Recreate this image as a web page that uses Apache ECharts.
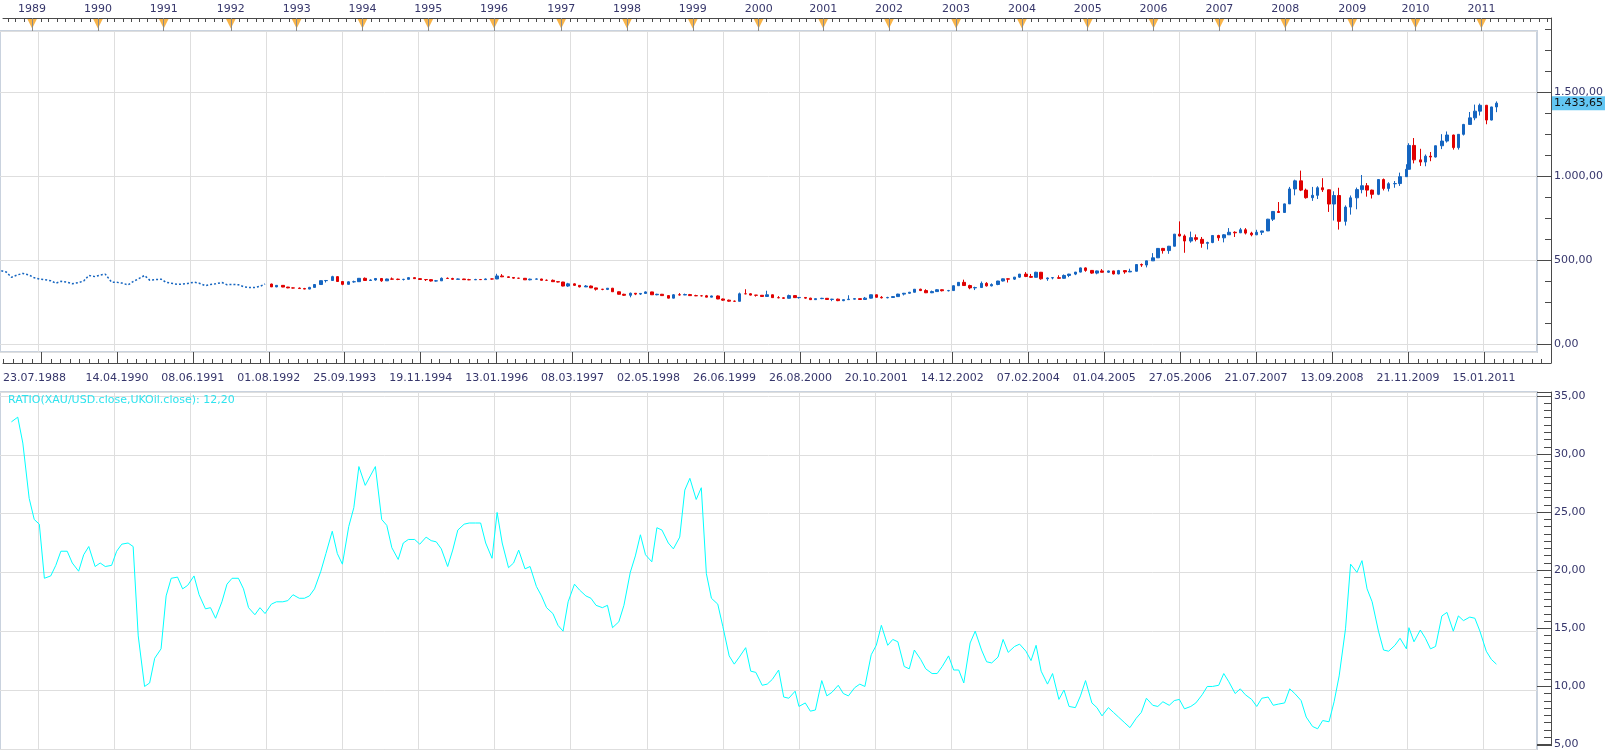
<!DOCTYPE html>
<html>
<head>
<meta charset="utf-8">
<title>XAU/USD</title>
<script src="https://cdn.jsdelivr.net/npm/echarts@6/dist/echarts.min.js"></script>
<style>
html, body { margin: 0; padding: 0; background: #fff; }
#main { width: 1608px; height: 750px; }
</style>
</head>
<body>
<div id="main"></div>
<script>
// labels of the date axis: first one on bar 0, the others every 60 weekly bars starting at bar 90
var tickDates = ['23.07.1988', '14.04.1990', '08.06.1991', '01.08.1992', '25.09.1993', '19.11.1994',
  '13.01.1996', '08.03.1997', '02.05.1998', '26.06.1999', '26.08.2000', '20.10.2001', '14.12.2002',
  '07.02.2004', '01.04.2005', '27.05.2006', '21.07.2007', '13.09.2008', '21.11.2009', '15.01.2011'];
var years = [1989, 1990, 1991, 1992, 1993, 1994, 1995, 1996, 1997, 1998, 1999, 2000,
  2001, 2002, 2003, 2004, 2005, 2006, 2007, 2008, 2009, 2010, 2011];

// XAU/USD per month, Jul 1988 .. Mar 2011 (month end close, high, low)
var goldClose = [
  436, 428, 397, 412, 420, 410,
  394, 387, 383, 377, 362, 373, 368, 359, 366, 375, 408, 401,
  410, 416, 368, 367, 363, 352, 372, 387, 408, 380, 383, 386,
  367, 362, 355, 357, 360, 368, 362, 347, 354, 358, 366, 353,
  354, 353, 341, 336, 337, 343, 357, 340, 349, 339, 334, 333,
  330, 327, 337, 354, 377, 378, 401, 372, 355, 370, 371, 391,
  378, 381, 390, 376, 387, 386, 384, 385, 395, 389, 384, 383,
  375, 376, 391, 390, 385, 387, 383, 382, 384, 383, 387, 387,
  405, 400, 396, 392, 391, 382, 386, 387, 379, 379, 371, 369,
  345, 358, 349, 340, 345, 334, 326, 325, 332, 311, 296, 290,
  302, 297, 301, 310, 293, 296, 288, 273, 293, 292, 294, 288,
  287, 287, 279, 286, 268, 261, 255, 254, 299, 299, 291, 290,
  283, 293, 276, 275, 272, 288, 276, 277, 273, 264, 270, 272,
  265, 267, 258, 264, 267, 270, 265, 273, 293, 278, 275, 277,
  282, 297, 302, 308, 326, 318, 305, 312, 323, 317, 318, 347,
  367, 348, 334, 336, 361, 346, 354, 375, 388, 386, 398, 416,
  402, 397, 427, 388, 393, 395, 391, 408, 416, 428, 453, 438,
  422, 435, 427, 435, 417, 437, 429, 433, 473, 470, 495, 513,
  569, 556, 582, 654, 643, 613, 633, 623, 599, 604, 646, 632,
  650, 665, 662, 680, 660, 650, 665, 673, 743, 789, 783, 834,
  923, 971, 916, 871, 885, 930, 918, 833, 884, 730, 815, 870,
  919, 942, 916, 891, 979, 926, 954, 955, 996, 1040, 1182, 1096,
  1083, 1118, 1113, 1180, 1208, 1244, 1169, 1248, 1307, 1346, 1386, 1421,
  1333, 1411, 1433.65
];
var goldHigh = [
  445, 440, 430, 415, 425, 425,
  412, 394, 393, 387, 380, 374, 378, 372, 369, 378, 411, 418,
  424, 426, 418, 378, 372, 366, 374, 412, 413, 412, 387, 389,
  404, 370, 369, 360, 362, 370, 371, 364, 356, 362, 370, 368,
  360, 357, 355, 342, 340, 345, 360, 359, 350, 351, 340, 336,
  336, 334, 340, 356, 378, 381, 406, 404, 374, 373, 377, 392,
  396, 385, 392, 392, 389, 396, 389, 388, 398, 396, 392, 386,
  385, 381, 396, 396, 394, 390, 388, 388, 388, 387, 390, 389,
  418, 416, 402, 397, 394, 393, 389, 390, 388, 384, 384, 373,
  370, 364, 361, 350, 351, 348, 335, 328, 333, 334, 313, 299,
  306, 303, 302, 313, 311, 299, 298, 290, 297, 303, 300, 298,
  293, 290, 292, 288, 289, 270, 264, 259, 306, 326, 302, 292,
  291, 317, 294, 285, 278, 294, 289, 280, 278, 275, 271, 275,
  273, 269, 270, 265, 290, 273, 271, 280, 294, 294, 285, 281,
  285, 299, 304, 310, 327, 329, 326, 318, 327, 325, 322, 348,
  369, 383, 353, 341, 372, 368, 361, 376, 390, 390, 399, 417,
  428, 417, 430, 429, 396, 397, 409, 414, 418, 429, 455, 456,
  440, 437, 446, 437, 436, 441, 438, 448, 474, 479, 496, 541,
  571, 572, 584, 655, 730, 652, 669, 652, 637, 609, 648, 650,
  654, 690, 671, 691, 690, 668, 680, 674, 745, 791, 845, 836,
  935, 978, 1032, 925, 935, 939, 987, 920, 909, 930, 825, 884,
  931, 1006, 958, 919, 982, 985, 963, 970, 1020, 1070, 1195, 1226,
  1162, 1128, 1143, 1181, 1249, 1265, 1246, 1250, 1310, 1381, 1425, 1431,
  1423, 1412, 1444
];
var goldLow = [
  430, 425, 395, 395, 410, 408,
  392, 382, 377, 375, 357, 358, 365, 356, 356, 364, 374, 399,
  400, 408, 364, 366, 362, 346, 350, 370, 384, 375, 376, 375,
  366, 358, 353, 353, 354, 358, 360, 346, 345, 352, 356, 352,
  348, 349, 339, 334, 334, 336, 342, 339, 338, 338, 332, 331,
  329, 326, 326, 336, 353, 366, 377, 370, 350, 354, 365, 370,
  376, 376, 377, 370, 375, 383, 380, 378, 384, 387, 382, 375,
  372, 372, 375, 389, 382, 383, 382, 380, 381, 381, 382, 384,
  386, 398, 393, 389, 388, 381, 379, 385, 378, 378, 370, 367,
  343, 340, 347, 337, 339, 333, 318, 320, 321, 310, 295, 286,
  278, 291, 292, 300, 292, 290, 287, 272, 272, 289, 291, 286,
  285, 283, 278, 278, 267, 257, 252, 252, 253, 296, 289, 282,
  282, 282, 275, 272, 268, 271, 275, 270, 270, 263, 263, 267,
  262, 255, 255, 255, 264, 265, 264, 264, 271, 277, 271, 272,
  276, 281, 289, 300, 307, 315, 303, 303, 311, 313, 313, 316,
  346, 346, 326, 321, 335, 342, 343, 350, 372, 366, 381, 394,
  398, 393, 396, 383, 376, 385, 388, 389, 398, 410, 426, 430,
  418, 415, 426, 423, 414, 415, 418, 428, 432, 459, 456, 494,
  512, 538, 537, 581, 640, 543, 603, 611, 573, 563, 600, 614,
  605, 649, 637, 660, 652, 641, 648, 649, 672, 732, 780, 782,
  833, 885, 910, 865, 852, 863, 905, 786, 735, 681, 705, 770,
  802, 897, 877, 866, 886, 914, 908, 930, 941, 995, 1039, 1075,
  1060, 1058, 1088, 1110, 1160, 1199, 1157, 1157, 1241, 1306, 1332, 1360,
  1308, 1331, 1380
];
// RATIO(XAU/USD.close, UKOil.close) at month end, Jul 1988 .. Mar 2011
var ratio = [
  null, null, 32.8, 33.2, 31.0, 26.3,
  24.5, 24.1, 19.5, 19.7, 20.6, 21.8, 21.8, 20.8, 20.1, 21.5, 22.2, 20.5,
  20.8, 20.5, 20.6, 21.8, 22.4, 22.5, 22.2, 14.6, 10.3, 10.6, 12.7, 13.5,
  18.0, 19.5, 19.6, 18.6, 18.9, 19.7, 18.1, 16.9, 17.0, 16.1, 17.5, 19.0,
  19.5, 19.5, 18.6, 17.0, 16.4, 17.0, 16.5, 17.3, 17.5, 17.5, 17.6, 18.1,
  17.8, 17.8, 18.0, 18.6, 20.1, 21.6, 23.5, 21.6, 20.7, 23.9, 25.5, 29.0,
  27.4, 28.2, 29.0, 24.5, 24.0, 22.1, 21.1, 22.5, 22.8, 22.8, 22.4, 23.0,
  22.7, 22.6, 22.0, 20.5, 21.9, 23.6, 24.1, 24.2, 24.2, 24.2, 22.5, 21.2,
  25.1, 22.5, 20.4, 20.8, 21.9, 20.3, 20.5, 18.8, 18.0, 17.0, 16.5, 15.5,
  15.0, 17.5, 19.0, 18.5, 18.0, 17.8, 17.2, 17.0, 17.2, 15.3, 15.8, 17.2,
  20.0, 21.4, 23.2, 21.5, 20.9, 23.8, 23.6, 22.5, 22.0, 23.0, 27.0, 28.0,
  26.2, 27.2, 19.9, 17.8, 17.3, 15.4, 12.9, 12.2, 12.8, 13.6, 11.6, 11.5,
  10.4, 10.5, 10.9, 11.7, 9.4, 9.3, 9.9, 8.6, 8.9, 8.2, 8.3, 10.8,
  9.5, 9.8, 10.4, 9.7, 9.5, 10.2, 10.5, 10.3, 13.0, 13.8, 15.5, 13.8,
  14.3, 14.1, 12.0, 11.8, 13.4, 12.6, 11.8, 11.4, 11.4, 12.0, 12.9, 11.7,
  11.7, 10.6, 14.0, 15.0, 13.4, 12.4, 12.3, 12.8, 14.3, 13.2, 13.7, 13.9,
  13.3, 12.5, 13.8, 11.6, 10.5, 11.4, 9.2, 10.0, 8.6, 8.5, 9.5, 10.8,
  8.9, 8.5, 7.8, 8.5, 8.1, 7.7, 7.2, 6.8, 7.6, 8.1, 9.3, 8.7,
  8.6, 9.0, 8.7, 9.1, 9.2, 8.4, 8.6, 8.9, 9.6, 10.3, 10.3, 10.4,
  11.4, 10.7, 9.7, 10.1, 9.6, 9.2, 8.6, 9.3, 9.4, 8.7, 8.8, 8.9,
  10.1, 9.7, 9.1, 7.7, 6.9, 6.7, 7.4, 7.3, 9.0, 11.2, 15.2, 20.7,
  20.0, 21.0, 18.6, 17.5, 15.0, 13.4, 13.3, 13.8, 14.4, 13.5, 15.3, 14.1,
  15.1, 14.4, 13.5, 13.7, 16.3, 16.6, 15.0, 16.3, 15.9, 16.2, 16.1, 15.0,
  13.3, 12.6, 12.2
];

var PLOT_BARS = 1213, AXIS_BARS = 1224;   // weekly bars inside the frame / up to the price axis
var FIRST_CANDLE_BAR = 210;               // before 01.08.1992 the price is only a dotted close line
var WEEK = 7 * 864e5;

var labelColor = '#36366b', axisColor = '#4a4a4a', gridColor = '#dedede', frameColor = '#c9d2de';
var upColor = '#1565c0', downColor = '#e00000', ratioColor = '#00ffff';

function de(v) {
  var p = Math.abs(v).toFixed(2).split('.');
  return (v < 0 ? '-' : '') + p[0].replace(/\B(?=(\d{3})+(?!\d))/g, '.') + ',' + p[1];
}
function parseDate(s) { var p = s.split('.'); return Date.UTC(+p[2], +p[1] - 1, +p[0]); }
function pad(n) { return n < 10 ? '0' + n : '' + n; }
function fmtDate(t) {
  var d = new Date(t);
  return pad(d.getUTCDate()) + '.' + pad(d.getUTCMonth() + 1) + '.' + d.getUTCFullYear();
}

// dates of the weekly bars, hung on the labelled dates
var anchors = tickDates.map(parseDate);
function barTime(b) {
  if (b < 90) return anchors[1] - (90 - b) * WEEK;
  var k = Math.min(Math.floor((b - 90) / 60), anchors.length - 2);
  return anchors[k + 1] + (b - 90 - 60 * k) * WEEK;
}
var barTimes = [], cats = [];
for (var b = 0; b < AXIS_BARS; b++) {
  barTimes.push(barTime(b));
  cats.push(fmtDate(barTimes[b]));
}
var plotCats = cats.slice(0, PLOT_BARS);

// tick positions
var majorBars = {}, labelBars = {0: true}, minorBars = {};
for (var k = 0; 30 + 60 * k < AXIS_BARS; k++) {
  majorBars[30 + 60 * k] = true;
  if (k > 0) labelBars[30 + 60 * k] = true;
}
for (var j = -4; 30 + 7.5 * j < AXIS_BARS; j++) minorBars[Math.round(30 + 7.5 * j)] = true;

function nearestBar(t) {
  var best = 0;
  for (var i = 1; i < AXIS_BARS; i++) if (Math.abs(barTimes[i] - t) < Math.abs(barTimes[best] - t)) best = i;
  return best;
}
var yearAt = {}, yearBars = [];
years.forEach(function (y) {
  var yb = nearestBar(Date.UTC(y, 0, 1));
  yearAt[yb] = y;
  yearBars.push(yb);
});
var topMinor = {};
for (var i = 0; i < yearBars.length - 1; i++) {
  for (var q = 1; q < 8; q++) topMinor[Math.round(yearBars[i] + q * (yearBars[i + 1] - yearBars[i]) / 8)] = true;
}
for (var q = 1; yearBars[0] - 6.5 * q >= 0; q++) topMinor[Math.round(yearBars[0] - 6.5 * q)] = true;
var lastYb = yearBars[yearBars.length - 1];
for (var q = 1; lastYb + 6.5 * q < AXIS_BARS; q++) topMinor[Math.round(lastYb + 6.5 * q)] = true;

// month i (0 = Jul 1988) sits on the last bar of that month
function monthEndBar(i) {
  var end = Date.UTC(1988, 7 + i, 0);
  var bb = 0;
  while (bb + 1 < AXIS_BARS && barTimes[bb + 1] <= end) bb++;
  return bb;
}
var empty = ['-', '-', '-', '-'];
var earlyData = [], candleData = [], ratioData = [];
for (var b = 0; b < PLOT_BARS; b++) { earlyData.push('-'); candleData.push(empty); ratioData.push('-'); }
for (var i = 0; i < goldClose.length; i++) {
  var mb = monthEndBar(i);
  if (mb < FIRST_CANDLE_BAR) {
    earlyData[mb] = goldClose[i];
  } else {
    candleData[mb] = [goldClose[i - 1], goldClose[i], goldLow[i], goldHigh[i]];
  }
  if (ratio[i] != null) ratioData[mb] = ratio[i];
}
var lastClose = goldClose[goldClose.length - 1];
var lastRatio = ratio[ratio.length - 1];

// pixel layout of the two panels
var TOP_AXIS_Y = 18, FRAME_TOP = 31, ZERO_Y = 344, FRAME_BOTTOM = 352, DATE_AXIS_Y = 363;
var PRICE_PX = 84 / 500;
var LOW_TOP = 392, LOW_BOTTOM = 750, Y35 = 396, RATIO_PX = 11.76;

var pAxisMax = (ZERO_Y - TOP_AXIS_Y) / PRICE_PX, pAxisMin = -(DATE_AXIS_Y - ZERO_Y) / PRICE_PX;
var pPlotMax = (ZERO_Y - FRAME_TOP) / PRICE_PX, pPlotMin = -(FRAME_BOTTOM - ZERO_Y) / PRICE_PX;
var rMax = 35 + (Y35 - LOW_TOP) / RATIO_PX, rMin = 35 - (LOW_BOTTOM - Y35) / RATIO_PX;
var markerY = pAxisMax - 5.5 / PRICE_PX;

var myChart = echarts.init(document.getElementById('main'));

function hiddenX(grid, data, split) {
  return {
    gridIndex: grid, type: 'category', data: data, boundaryGap: false,
    axisLine: {show: false, onZero: false}, axisTick: {show: false}, axisLabel: {show: false},
    splitLine: {show: split, interval: function (i) { return !!majorBars[i]; }, lineStyle: {color: gridColor}}
  };
}
function hiddenY(grid, min, max, splitNumber, split) {
  return {
    gridIndex: grid, type: 'value', min: min, max: max, splitNumber: splitNumber,
    axisLine: {show: false, onZero: false}, axisTick: {show: false}, axisLabel: {show: false},
    splitLine: {show: split, lineStyle: {color: gridColor}}
  };
}
function rightY(grid, min, max, splitNumber, minorSplit, minorLen) {
  return {
    gridIndex: grid, type: 'value', position: 'right', min: min, max: max, splitNumber: splitNumber,
    axisLine: {show: true, onZero: false, lineStyle: {color: axisColor}},
    axisTick: {show: true, inside: true, length: 14, lineStyle: {color: axisColor}},
    minorTick: {show: true, splitNumber: minorSplit, length: minorLen, lineStyle: {color: axisColor}},
    axisLabel: {color: labelColor, fontSize: 11, margin: 3, showMinLabel: false, showMaxLabel: false, formatter: de},
    splitLine: {show: false}
  };
}

var option = {
  animation: false,
  textStyle: {fontFamily: 'DejaVu Sans', fontSize: 11},
  title: {
    text: 'RATIO(XAU/USD.close,UKOil.close): ' + de(lastRatio),
    left: 8, top: 395, padding: 0,
    textStyle: {color: '#2fe3ee', fontSize: 11, fontWeight: 'normal', fontFamily: 'DejaVu Sans'}
  },
  grid: [
    {left: 0, top: TOP_AXIS_Y, width: 1551, height: DATE_AXIS_Y - TOP_AXIS_Y},
    {left: 0, top: FRAME_TOP, width: 1537, height: FRAME_BOTTOM - FRAME_TOP, show: true, borderColor: frameColor, borderWidth: 2},
    {left: 0, top: LOW_TOP, width: 1537, height: LOW_BOTTOM - LOW_TOP, show: true, borderColor: frameColor, borderWidth: 2},
    {left: 0, top: LOW_TOP, width: 1551, height: LOW_BOTTOM - LOW_TOP}
  ],
  xAxis: [
    { // years on top
      gridIndex: 0, type: 'category', data: cats, boundaryGap: false, position: 'top', z: 5,
      axisLine: {onZero: false, lineStyle: {color: axisColor}},
      axisTick: {inside: true, length: 13, interval: function (i) { return yearAt[i] != null; }, lineStyle: {color: '#8a8a8a'}},
      axisLabel: {interval: function (i) { return yearAt[i] != null; }, formatter: function (v, i) { return '' + yearAt[i]; },
        color: labelColor, fontSize: 11, margin: 3},
      splitLine: {show: false}
    },
    { // small ticks on top
      gridIndex: 0, type: 'category', data: cats, boundaryGap: false, position: 'top', z: 5,
      axisLine: {show: false, onZero: false},
      axisTick: {inside: true, length: 4, interval: function (i) { return !!topMinor[i]; }, lineStyle: {color: axisColor}},
      axisLabel: {show: false}, splitLine: {show: false}
    },
    { // dates
      gridIndex: 0, type: 'category', data: cats, boundaryGap: false, position: 'bottom',
      axisLine: {onZero: false, lineStyle: {color: axisColor}},
      axisTick: {inside: true, length: 11, interval: function (i) { return !!majorBars[i]; }, lineStyle: {color: axisColor}},
      axisLabel: {interval: function (i) { return !!labelBars[i]; }, color: labelColor, fontSize: 11, margin: 10, alignMinLabel: 'left'},
      splitLine: {show: false}
    },
    { // small ticks of the date axis
      gridIndex: 0, type: 'category', data: cats, boundaryGap: false, position: 'bottom',
      axisLine: {show: false, onZero: false},
      axisTick: {inside: true, length: 4, interval: function (i) { return !!minorBars[i]; }, lineStyle: {color: axisColor}},
      axisLabel: {show: false}, splitLine: {show: false}
    },
    hiddenX(1, plotCats, true),
    hiddenX(2, plotCats, true),
    hiddenX(3, cats, false)
  ],
  yAxis: [
    rightY(0, pAxisMin, pAxisMax, 4, 4, 6),
    hiddenY(1, pPlotMin, pPlotMax, 4, true),
    hiddenY(2, rMin, rMax, 6, true),
    rightY(3, rMin, rMax, 6, 8, 7)
  ],
  series: [
    {
      type: 'scatter', name: 'years', xAxisIndex: 0, yAxisIndex: 0, silent: true, z: 1,
      data: yearBars.map(function (yb) { return [yb, markerY]; }),
      symbol: 'triangle', symbolRotate: 180, symbolSize: [10, 10],
      itemStyle: {color: '#f7a11a'}
    },
    {
      type: 'line', name: 'XAU/USD early', xAxisIndex: 4, yAxisIndex: 1,
      data: earlyData, connectNulls: true, showSymbol: false, symbol: 'none',
      lineStyle: {color: upColor, width: 1.5, type: [2, 2]}, itemStyle: {color: upColor}
    },
    {
      type: 'candlestick', name: 'XAU/USD', xAxisIndex: 4, yAxisIndex: 1,
      data: candleData, barWidth: 3, large: false, clip: false,
      itemStyle: {color: upColor, color0: downColor, borderColor: upColor, borderColor0: downColor, borderWidth: 1},
      markLine: {
        silent: true, symbol: 'none',
        lineStyle: {color: 'rgba(0,0,0,0)'},
        label: {position: 'end', distance: 15, formatter: de(lastClose), backgroundColor: '#62c6f3',
          color: '#111', padding: [2, 2, 1, 2], fontSize: 11},
        data: [{yAxis: lastClose}]
      }
    },
    {
      type: 'line', name: 'RATIO', xAxisIndex: 5, yAxisIndex: 2,
      data: ratioData, connectNulls: true, showSymbol: false, symbol: 'none',
      lineStyle: {color: ratioColor, width: 1}, itemStyle: {color: ratioColor}
    }
  ]
};

myChart.setOption(option);
</script>
</body>
</html>
